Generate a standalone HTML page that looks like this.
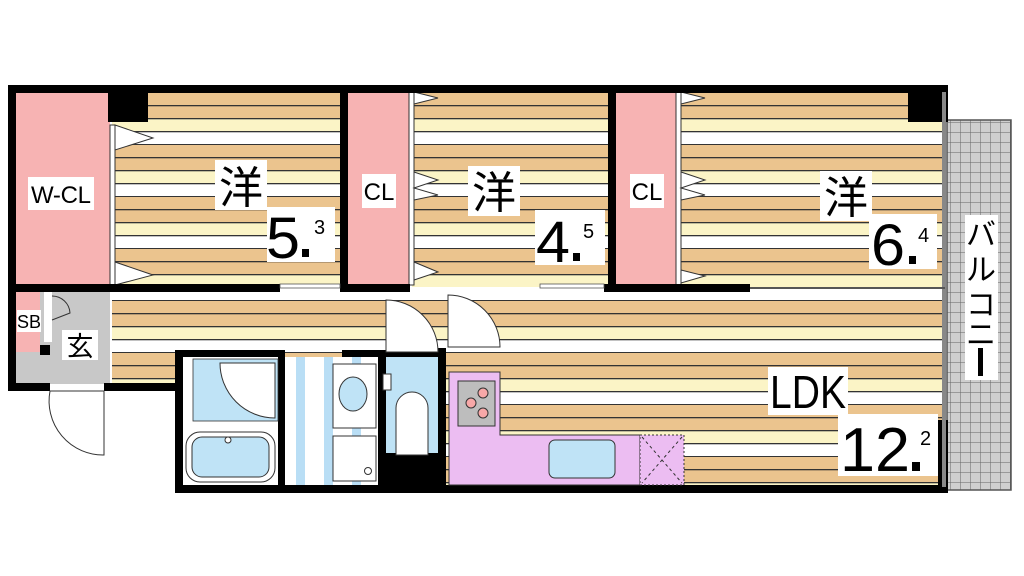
<!DOCTYPE html>
<html><head><meta charset="utf-8"><style>
html,body{margin:0;padding:0;background:#fff;width:1024px;height:576px;overflow:hidden}
svg{display:block}
text{font-family:"Liberation Sans","Noto Sans CJK JP",sans-serif}
</style></head><body>
<svg width="1024" height="576" viewBox="0 0 1024 576" xmlns="http://www.w3.org/2000/svg">
<defs>
<pattern id="fl" x="0" y="93" width="40" height="52" patternUnits="userSpaceOnUse">
<rect width="40" height="52" fill="#f9f3c8"/>
<rect y="0" width="40" height="13" fill="#ebc48e"/>
<rect y="13" width="40" height="13" fill="#ebc48e"/>
<rect y="26" width="40" height="13" fill="#fbf4c6"/>
<rect y="39" width="40" height="13" fill="#fff"/>
<rect y="12" width="40" height="1.3" fill="#333"/>
<rect y="25" width="40" height="1.3" fill="#333"/>
<rect y="38" width="40" height="1.3" fill="#333"/>
<rect y="51" width="40" height="1.3" fill="#333"/>
</pattern>
<pattern id="grid" x="950" y="122" width="10" height="10" patternUnits="userSpaceOnUse">
<rect width="10" height="10" fill="#cfcfcf"/>
<path d="M0 0H10M0 0V10" stroke="#666" stroke-width="1"/>
</pattern>
<pattern id="ws" x="288" y="0" width="28" height="10" patternUnits="userSpaceOnUse">
<rect width="28" height="10" fill="#fff"/><rect x="8" width="9" height="10" fill="#b9def5"/>
</pattern>
</defs>

<!-- balcony -->
<rect x="947" y="120" width="64" height="370" fill="url(#grid)" stroke="#555" stroke-width="1.5"/>
<rect x="965" y="215" width="33" height="165" fill="#fff"/>
<text x="981" y="245" font-size="30" text-anchor="middle">バ</text>
<text x="981" y="280" font-size="30" text-anchor="middle">ル</text>
<text x="981" y="315" font-size="30" text-anchor="middle">コ</text>
<text x="981" y="345" font-size="30" text-anchor="middle">ニ</text>
<rect x="978" y="348" width="5" height="28" fill="#000"/>

<!-- floors -->
<rect x="112" y="92" width="230" height="195" fill="url(#fl)"/>
<rect x="412" y="92" width="198" height="195" fill="url(#fl)"/>
<rect x="680" y="92" width="263" height="195" fill="url(#fl)"/>
<rect x="112" y="292" width="335" height="92" fill="url(#fl)"/>
<rect x="445" y="292" width="498" height="194" fill="url(#fl)"/>

<!-- closets -->
<rect x="15" y="92" width="95" height="193" fill="#f7b3b3"/>
<rect x="347" y="92" width="62" height="193" fill="#f7b3b3"/>
<rect x="615" y="92" width="61" height="193" fill="#f7b3b3"/>
<rect x="15" y="292" width="25" height="60" fill="#f7b3b3"/>
<rect x="40" y="292" width="70" height="92" fill="#c8c8c8"/>
<rect x="15" y="352" width="30" height="32" fill="#c8c8c8"/>
<rect x="44" y="292" width="8" height="50" fill="#fff"/>

<!-- door leaves of closets -->
<g fill="#fff" stroke="#333" stroke-width="1">
<rect x="110" y="125" width="5" height="160"/>
<path d="M115 125L153 138L115 150Z"/><path d="M115 262L153 275L115 285Z"/>
<rect x="409" y="92" width="5" height="193"/>
<path d="M414 92L438 98L414 104Z"/><path d="M414 172L438 180L414 188L438 195L414 200Z"/><path d="M414 262L438 272L414 280Z"/>
<rect x="676" y="92" width="5" height="193"/>
<path d="M681 92L705 98L681 104Z"/><path d="M681 172L705 180L681 188L705 195L681 200Z"/><path d="M681 270L705 276L681 283Z"/>
</g>

<!-- walls -->
<g fill="#000">
<rect x="8" y="85" width="940" height="8"/>
<rect x="8" y="85" width="8" height="305"/>
<rect x="8" y="383" width="42" height="8"/>
<rect x="104" y="383" width="75" height="8"/>
<rect x="108" y="92" width="40" height="30"/>
<rect x="908" y="92" width="40" height="30"/>
<rect x="340" y="92" width="8" height="198"/>
<rect x="608" y="92" width="8" height="198"/>
<rect x="8" y="284" width="272" height="8"/>
<rect x="340" y="284" width="70" height="8"/>
<rect x="604" y="284" width="146" height="8"/>
<rect x="40" y="345" width="10" height="10"/>
<rect x="175" y="350" width="8" height="142"/>
<rect x="175" y="485" width="773" height="8"/>
<rect x="175" y="350" width="110" height="7"/>
<rect x="342" y="350" width="100" height="7"/>
<rect x="278" y="350" width="7" height="140"/>
<rect x="378" y="350" width="8" height="140"/>
<rect x="438" y="348" width="8" height="140"/>
<rect x="378" y="452" width="68" height="36"/>
<rect x="938" y="420" width="10" height="70"/>
<rect x="942" y="92" width="4" height="395" fill="#888"/>
</g>
<rect x="280" y="284" width="60" height="4" fill="#fff" stroke="#555" stroke-width="0.8"/>
<rect x="540" y="284" width="64" height="4" fill="#fff" stroke="#555" stroke-width="0.8"/>
<line x1="750" y1="288" x2="945" y2="288" stroke="#555" stroke-width="2"/>

<!-- entrance door -->
<path d="M50 391H104V455A54 54 0 0 1 50 391Z" fill="#fff" stroke="#333" stroke-width="1"/>
<path d="M52 296A18 18 0 0 1 70 313L52 320" fill="none" stroke="#333" stroke-width="1"/>

<!-- hall doors -->
<path d="M386 300A52 52 0 0 1 438 352H386Z" fill="#fff" stroke="#333"/>
<path d="M448 295A52 52 0 0 1 500 347H448Z" fill="#fff" stroke="#333"/>

<!-- bath -->
<rect x="183" y="357" width="95" height="128" fill="#fff"/>
<rect x="193" y="359" width="85" height="62" fill="#bfe3f6" stroke="#333" stroke-width="0.8"/>
<path d="M220 363A55 55 0 0 0 275 418V363Z" fill="#fff" stroke="#333"/>
<rect x="186" y="432" width="89" height="50" rx="14" fill="#fff" stroke="#333"/>
<rect x="192" y="437" width="77" height="40" rx="10" fill="#bfe3f6" stroke="#333"/>
<circle cx="228" cy="440" r="3" fill="#fff" stroke="#333"/>
<!-- washroom -->
<rect x="285" y="357" width="93" height="128" fill="url(#ws)"/>
<rect x="333" y="364" width="43" height="64" fill="#fff" stroke="#333"/>
<ellipse cx="353" cy="394" rx="14" ry="17" fill="#bfe3f6" stroke="#333"/>
<rect x="333" y="436" width="43" height="45" fill="#fff" stroke="#333"/>
<circle cx="368" cy="471" r="3.5" fill="#fff" stroke="#333"/>
<!-- toilet -->
<rect x="386" y="357" width="52" height="96" fill="#bfe3f6"/>
<rect x="383" y="374" width="8" height="16" fill="#fff" stroke="#333"/>
<path d="M396 455V408A16 16 0 0 1 428 408V455Z" fill="#fff" stroke="#333"/>
<!-- kitchen -->
<path d="M449 372H500V435H640V485H449Z" fill="#ecbdf2" stroke="#333"/>
<rect x="458" y="381" width="37" height="45" fill="#bdbdbd" stroke="#333"/>
<g fill="#f7a8a8" stroke="#333"><circle cx="483" cy="393" r="5"/><circle cx="471" cy="403" r="5"/><circle cx="483" cy="413" r="5"/></g>
<rect x="549" y="440" width="66" height="38" rx="6" fill="#bfe3f6" stroke="#333"/>
<rect x="640" y="435" width="44" height="50" fill="#ecbdf2" stroke="#333" stroke-dasharray="2 2"/>
<path d="M642 437L682 483M682 437L642 483" stroke="#333" stroke-dasharray="3 3"/>

<!-- labels -->
<rect x="28" y="177" width="66" height="33" fill="#fff"/>
<text x="61" y="203" font-size="24" text-anchor="middle" textLength="60">W-CL</text>
<rect x="362" y="174" width="34" height="34" fill="#fff"/>
<text x="379" y="200" font-size="24" text-anchor="middle">CL</text>
<rect x="630" y="174" width="34" height="34" fill="#fff"/>
<text x="647" y="200" font-size="24" text-anchor="middle">CL</text>
<rect x="17" y="310" width="24" height="22" fill="#fff"/>
<text x="29" y="328" font-size="18" text-anchor="middle">SB</text>
<rect x="62" y="330" width="36" height="30" fill="#fff"/>
<text x="80" y="356" font-size="27" text-anchor="middle">玄</text>

<rect x="215" y="160" width="52" height="50" fill="#fff"/>
<text x="241" y="203" font-size="44" text-anchor="middle">洋</text>
<rect x="267" y="207" width="68" height="55" fill="#fff"/>
<text x="266" y="258" font-size="58" textLength="34" lengthAdjust="spacingAndGlyphs">5</text>
<rect x="302" y="249" width="7" height="8" fill="#000"/>
<text x="314" y="234" font-size="20">3</text>

<rect x="468" y="166" width="52" height="50" fill="#fff"/>
<text x="494" y="208" font-size="44" text-anchor="middle">洋</text>
<rect x="535" y="210" width="70" height="55" fill="#fff"/>
<text x="536" y="262" font-size="58" textLength="34" lengthAdjust="spacingAndGlyphs">4</text>
<rect x="573" y="253" width="7" height="8" fill="#000"/>
<text x="583" y="238" font-size="20">5</text>

<rect x="820" y="171" width="52" height="50" fill="#fff"/>
<text x="846" y="213" font-size="44" text-anchor="middle">洋</text>
<rect x="869" y="214" width="68" height="55" fill="#fff"/>
<text x="871" y="265" font-size="58" textLength="34" lengthAdjust="spacingAndGlyphs">6</text>
<rect x="909" y="256" width="7" height="8" fill="#000"/>
<text x="918" y="242" font-size="20">4</text>

<rect x="768" y="367" width="80" height="48" fill="#fff"/>
<text x="808" y="408" font-size="46" text-anchor="middle" textLength="76" lengthAdjust="spacingAndGlyphs">LDK</text>
<rect x="838" y="414" width="100" height="62" fill="#fff"/>
<text x="840" y="471" font-size="62" textLength="70" lengthAdjust="spacingAndGlyphs">12</text>
<rect x="912" y="462" width="8" height="9" fill="#000"/>
<text x="920" y="445" font-size="20">2</text>
</svg>
</body></html>
